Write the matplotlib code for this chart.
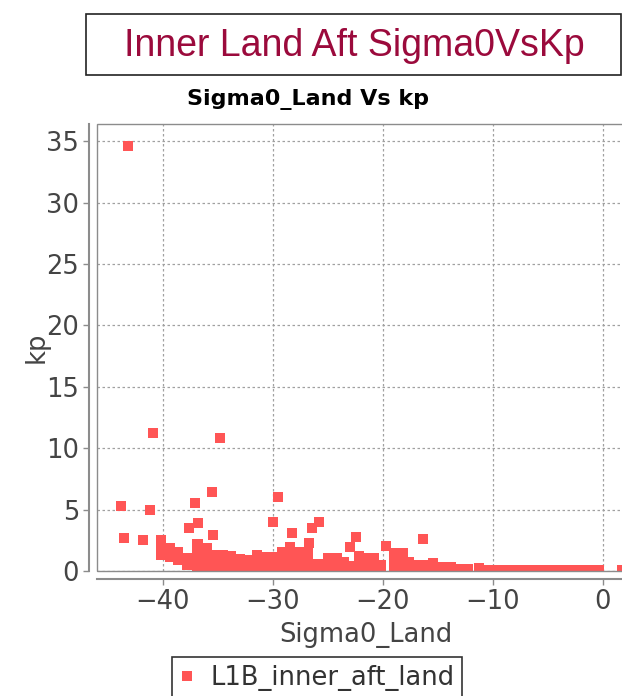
import matplotlib
matplotlib.use("Agg")
import matplotlib.pyplot as plt
from matplotlib.patches import Rectangle
from matplotlib.lines import Line2D

# ---------------- data ----------------
outlier_sigma0 = [-43.2, -43.8, -43.5, -41.8, -41.2, -40.9, -34.8, -37.1, -35.5, -29.5,
                  -37.6, -36.8, -35.4, -30.0, -28.3, -26.4, -25.8, -26.7, -22.4, -23.0,
                  -19.7, -16.3, -36.8]
outlier_kp = [34.6, 5.3, 2.65, 2.5, 5.0, 11.25, 10.8, 5.5, 6.45, 6.05,
              3.5, 3.9, 2.93, 3.95, 3.1, 3.5, 4.0, 2.3, 2.75, 1.95,
              2.07, 2.6, 2.2]

band_sigma0 = [-40.2, -40.2, -40.2,
               -39.4, -39.4, -39.4,
               -38.6, -38.6, -38.6,
               -37.8, -37.8, -37.8,
               -36.9, -36.9, -36.9, -36.9, -36.9,
               -36.0, -36.0, -36.0, -36.0,
               -35.2, -35.2, -35.2,
               -34.5, -34.5, -34.5,
               -33.8, -33.8, -33.8,
               -33.0, -33.0, -33.0,
               -32.2, -32.2, -32.2,
               -31.4, -31.4, -31.4,
               -30.6, -30.6, -30.6,
               -29.9, -29.9, -29.9,
               -29.2, -29.2, -29.2,
               -28.4, -28.4, -28.4, -28.4,
               -27.6, -27.6, -27.6,
               -26.8, -26.8, -26.8,
               -25.9, -25.9,
               -25.0, -25.0, -25.0,
               -24.2, -24.2, -24.2,
               -23.5, -23.5,
               -22.9,
               -22.2, -22.2, -22.2,
               -21.5, -21.5, -21.5,
               -20.8, -20.8, -20.8,
               -20.2, -20.2,
               -19.0, -19.0, -19.0,
               -18.2, -18.2, -18.2,
               -17.6, -17.6,
               -16.9, -16.9,
               -16.1, -16.1,
               -15.4, -15.4,
               -14.6, -13.8, -13.0, -12.2, -11.2, -10.4,
               -9.6, -8.8, -8.0, -7.2, -6.4, -5.6, -4.8, -4.0, -3.2, -2.4, -1.6, -0.8, -0.3,
               1.8, 2.6]
band_kp = [2.5, 1.8, 1.3,
           1.86, 1.4, 1.1,
           1.57, 1.2, 0.9,
           1.05, 0.75, 0.5,
           2.2, 1.6, 1.0, 0.5, 0.1,
           1.85, 1.3, 0.8, 0.3,
           1.3, 0.8, 0.3,
           1.3, 0.8, 0.3,
           1.2, 0.7, 0.2,
           1.0, 0.5, 0.1,
           0.9, 0.4, 0.1,
           1.3, 0.8, 0.3,
           1.16, 0.6, 0.1,
           1.16, 0.6, 0.1,
           1.57, 1.0, 0.4,
           1.98, 1.4, 0.8, 0.2,
           1.57, 1.0, 0.4,
           1.45, 0.9, 0.3,
           0.6, 0.1,
           1.05, 0.5, 0.1,
           1.05, 0.5, 0.1,
           0.76, 0.2,
           0.4,
           1.2, 0.6, 0.1,
           1.05, 0.5, 0.1,
           1.05, 0.5, 0.1,
           0.5, 0.1,
           1.45, 0.9, 0.35,
           1.45, 0.9, 0.35,
           0.76, 0.25,
           0.5, 0.05,
           0.5, 0.05,
           0.65, 0.1,
           0.35, 0.3, 0.15, 0.15, 0.28, 0.12,
           0.12, 0.12, 0.12, 0.12, 0.12, 0.12, 0.12, 0.12, 0.12, 0.12, 0.12, 0.12, 0.12,
           0.12, 0.12]

sigma0 = outlier_sigma0 + band_sigma0
kp = outlier_kp + band_kp

x_ticks = [-40, -30, -20, -10, 0]
y_ticks = [0, 5, 10, 15, 20, 25, 30, 35]

main_title = "Inner Land Aft Sigma0VsKp"
sub_title = "Sigma0_Land Vs kp"
x_label = "Sigma0_Land"
y_label = "kp"
series_name = "L1B_inner_aft_land"

# ---------------- layout ----------------
W, H = 622, 696
DPI = 100
fig = plt.figure(figsize=(W / DPI, H / DPI), dpi=DPI)
fig.patch.set_facecolor("white")

def fx(px):
    return px / W

def fy(py):
    return 1 - py / H

# title box
fig.patches.append(Rectangle((fx(86), fy(75)), fx(621) - fx(86), fy(14) - fy(75),
                             transform=fig.transFigure, facecolor="white",
                             edgecolor="#222222", linewidth=1.2))
fig.text(fx(354), fy(46), main_title, ha="center", va="center",
         fontsize=27, color="#9b0a3c", family="Liberation Sans")

fig.text(fx(308), fy(100), sub_title, ha="center", va="center",
         fontsize=16, color="black", family="DejaVu Sans", fontweight="bold")

left, right, top, bottom = 97, 635.5, 124, 571
ax = fig.add_axes([fx(left), fy(bottom), (right - left) / W, (bottom - top) / H])
ax.set_xlim(-46, 3)
ax.set_ylim(0, 36.4)

ax.scatter(sigma0, kp, marker="s", s=7.2 ** 2, color="#FF5555", linewidths=0,
           zorder=3, label=series_name)

ax.set_xticks(x_ticks)
ax.set_yticks(y_ticks)
ax.grid(True, color="#a0a0a0", linestyle=(0, (2, 2)), linewidth=0.9)
ax.set_axisbelow(True)

for s in ["top", "right"]:
    ax.spines[s].set_visible(False)
ax.spines["left"].set_position(("outward", 6))
ax.spines["bottom"].set_position(("outward", 6))
for s in ["left", "bottom"]:
    ax.spines[s].set_color("#8c8c8c")
    ax.spines[s].set_linewidth(1.5)

ax.add_patch(Rectangle((0, 0), 1, 1, transform=ax.transAxes, fill=False,
                       edgecolor="#8c8c8c", linewidth=1.0, zorder=4, clip_on=False))

ax.tick_params(axis="both", direction="out", length=4, width=1, color="#8c8c8c",
               labelcolor="#444444", labelsize=18.5, pad=3)
for lab in ax.get_xticklabels() + ax.get_yticklabels():
    lab.set_family("DejaVu Sans")

ax.set_xlabel(x_label, fontsize=18.5, color="#444444", family="DejaVu Sans", labelpad=5)
ax.set_ylabel(y_label, fontsize=18.5, color="#444444", family="DejaVu Sans", labelpad=-3)

handle = Line2D([], [], marker="s", linestyle="none", markersize=6.5,
                markerfacecolor="#FF5555", markeredgewidth=0)
leg = fig.legend([handle], [series_name], loc="upper left",
                 bbox_to_anchor=(fx(172), fy(657)), frameon=True, fancybox=False,
                 edgecolor="black", fontsize=18.5, handlelength=0.6,
                 handletextpad=0.6, borderpad=0.3, borderaxespad=0)
leg.get_frame().set_linewidth(1.2)
for t in leg.get_texts():
    t.set_color("#333333")
    t.set_family("DejaVu Sans")

fig.savefig("out.png", dpi=DPI)
